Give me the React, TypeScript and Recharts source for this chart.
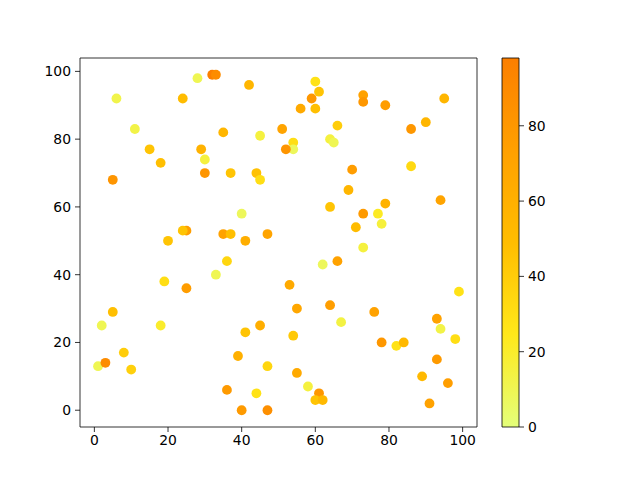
import React from 'react';
import { ScatterChart, Scatter, XAxis, YAxis, ReferenceArea, BarChart, Bar } from 'recharts';

const xValues = [28,32,33,42,6,24,11,35,45,15,29,18,30,5,30,37,44,45,40,25,24,35,37,47,20,41,60,61,59,56,60,73,73,79,95,51,66,86,90,54,54,52,64,65,70,86,69,94,64,79,73,77,78,71,73,36,33,19,25,5,2,18,41,45,8,1,3,10,39,47,36,44,40,47,62,66,53,55,64,67,76,99,93,94,98,54,78,82,84,93,55,89,96,58,61,60,62,91];
const yValues = [98,99,99,96,92,92,83,82,81,77,77,73,74,68,70,70,70,68,58,53,53,52,52,52,50,50,97,94,92,89,89,93,91,90,92,83,84,83,85,79,77,77,80,79,71,72,65,62,60,61,58,58,55,54,48,44,40,38,36,29,25,25,23,25,17,13,14,12,16,13,6,5,0,0,43,44,37,30,31,26,29,35,27,24,21,22,20,19,20,15,11,10,8,7,5,3,3,2];
const colorValues = [10,98,88,55,12,50,13,55,15,45,58,48,15,82,82,45,47,30,8,75,45,72,48,70,45,62,28,45,80,65,48,72,80,76,55,70,40,80,55,30,8,82,15,10,76,33,55,70,45,58,78,22,16,50,15,35,10,30,76,48,10,20,45,62,40,10,88,38,60,35,78,28,78,86,8,72,65,68,75,14,72,28,72,13,30,42,80,28,52,78,65,52,75,15,80,45,52,72];

const xTicks = [0, 20, 40, 60, 80, 100];
const yTicks = [0, 20, 40, 60, 80, 100];
const colorTicks = [0, 20, 40, 60, 80];
const colorMin = 0;
const colorMax = 98;

const wistiaStops: [number, number, number, number][] = [
  [0, 228, 255, 122],
  [0.25, 255, 232, 26],
  [0.5, 255, 189, 0],
  [0.75, 255, 160, 0],
  [1, 252, 127, 0],
];

function wistia(t: number): string {
  const v = Math.max(0, Math.min(1, t));
  for (let i = 0; i < wistiaStops.length - 1; i++) {
    const a = wistiaStops[i];
    const b = wistiaStops[i + 1];
    if (v <= b[0]) {
      const f = (v - a[0]) / (b[0] - a[0]);
      const r = Math.round(a[1] + (b[1] - a[1]) * f);
      const g = Math.round(a[2] + (b[2] - a[2]) * f);
      const bl = Math.round(a[3] + (b[3] - a[3]) * f);
      return `rgb(${r},${g},${bl})`;
    }
  }
  return 'rgb(252,127,0)';
}

const points = xValues.map((x, i) => ({ x, y: yValues[i], c: colorValues[i] }));
// draw the (61,5) point before its neighbours so they overlap it as in the reference
const orderedPoints = [...points].sort((a, b) => (a.x === 61 && a.y === 5 ? -1 : b.x === 61 && b.y === 5 ? 1 : 0));
const colorbarData = [{ name: 'cb', v: colorMax }];

const font = { fill: '#000', fontSize: 13.9, fontFamily: 'DejaVu Sans' };

const Dot = (props: any) => {
  const { cx, cy, payload } = props;
  if (cx == null || cy == null) return null;
  return <circle cx={cx} cy={cy} r={4.9} fill={wistia((payload.c - colorMin) / (colorMax - colorMin))} />;
};

export default function App() {
  return (
    <div style={{ position: 'absolute', left: 0, top: 0, width: 640, height: 480, background: '#fff' }}>
      <div style={{ position: 'absolute', left: 0, top: 0 }}>
        <ScatterChart width={640} height={480} margin={{ top: 58, right: 163, bottom: 23, left: 40 }}>
          <XAxis
            type="number"
            dataKey="x"
            domain={[-3.9, 103.9]}
            ticks={xTicks}
            allowDataOverflow
            height={30}
            tick={font}
            tickLine={{ stroke: '#000', strokeWidth: 0.8 }}
            axisLine={false}
            tickSize={5}
            tickMargin={3}
          />
          <YAxis
            type="number"
            dataKey="y"
            domain={[-4.95, 103.95]}
            ticks={yTicks}
            allowDataOverflow
            width={40}
            tick={font}
            tickLine={{ stroke: '#000', strokeWidth: 0.8 }}
            axisLine={false}
            tickSize={5}
            tickMargin={4}
          />
          <ReferenceArea x1={-3.9} x2={103.9} y1={-4.95} y2={103.95} fill="none" stroke="#000" strokeWidth={0.8} ifOverflow="visible" />
          <Scatter data={orderedPoints} shape={Dot} isAnimationActive={false} />
        </ScatterChart>
      </div>
      <div style={{ position: 'absolute', left: 0, top: 0 }}>
        <BarChart width={640} height={480} data={colorbarData} margin={{ top: 58, right: 81, bottom: 53, left: 502 }} barCategoryGap="0%">
          <defs>
            <linearGradient id="wistiaGrad" x1="0" y1="1" x2="0" y2="0">
              {wistiaStops.map((s) => (
                <stop key={s[0]} offset={`${s[0] * 100}%`} stopColor={`rgb(${s[1]},${s[2]},${s[3]})`} />
              ))}
            </linearGradient>
          </defs>
          <XAxis dataKey="name" hide />
          <YAxis
            orientation="right"
            type="number"
            domain={[colorMin, colorMax]}
            ticks={colorTicks}
            width={40}
            tick={font}
            tickLine={{ stroke: '#000', strokeWidth: 0.8 }}
            axisLine={false}
            tickSize={5}
            tickMargin={4}
          />
          <Bar dataKey="v" fill="url(#wistiaGrad)" stroke="#000" strokeWidth={0.8} isAnimationActive={false} />
        </BarChart>
      </div>
    </div>
  );
}
